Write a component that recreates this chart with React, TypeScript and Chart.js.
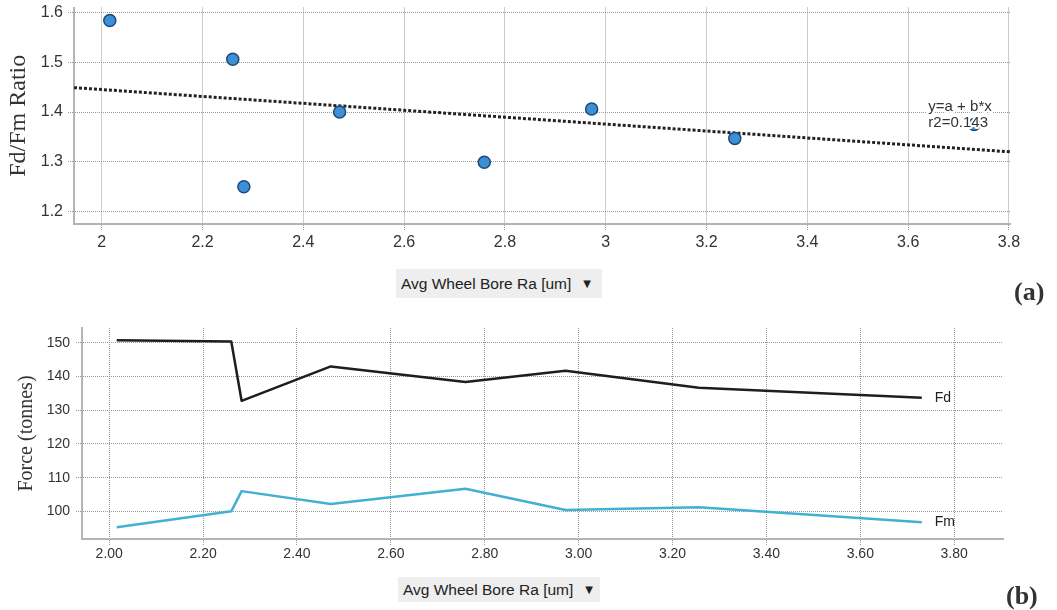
import { useEffect, useRef } from "react";
import { Chart, registerables } from "chart.js";

Chart.register(...registerables);

// ---------- data ----------
const wheelBoreRa = [2.016, 2.26, 2.282, 2.472, 2.759, 2.972, 3.256, 3.731];
const fdFmRatio = [1.584, 1.506, 1.25, 1.4, 1.299, 1.406, 1.347, 1.375];
const fitX = [1.945, 3.802];
const fitY = [1.449, 1.32];
const fdForce = [150.8, 150.4, 132.8, 143.0, 138.4, 141.7, 136.7, 133.7];
const fmForce = [95.3, 100.0, 106.0, 102.2, 106.7, 100.4, 101.2, 96.8];

const ratioTicks = [1.2, 1.3, 1.4, 1.5, 1.6];
const raTicks = [2, 2.2, 2.4, 2.6, 2.8, 3, 3.2, 3.4, 3.6, 3.8];
const forceTicks = [100, 110, 120, 130, 140, 150];

const eqLines = ["y=a + b*x", "r2=0.143"];
const eqAnchorX = 3.64;
const eqAnchorY = [1.41, 1.378];
const seriesNames = ["Fd", "Fm"];
const xTitle = "Avg Wheel Bore Ra [um]";

const SANS = '"Liberation Sans", Arial, sans-serif';
const SERIF = '"Liberation Serif", "Times New Roman", serif';
const GRID = "#999999";
const AXIS = "#b4b4b4";
const TICK_TXT = "#333333";

const eqPlugin = {
  id: "eqPlugin",
  afterDatasetsDraw(chart: any) {
    const { ctx, scales } = chart;
    const x = scales.x.getPixelForValue(eqAnchorX);
    ctx.save();
    ctx.font = `15px ${SANS}`;
    ctx.textAlign = "left";
    ctx.textBaseline = "middle";
    eqLines.forEach((t, i) => {
      const y = scales.y.getPixelForValue(eqAnchorY[i]);
      ctx.lineWidth = 4;
      ctx.strokeStyle = "#ffffff";
      ctx.lineJoin = "round";
      ctx.strokeText(t, x, y);
      ctx.fillStyle = "#333333";
      ctx.fillText(t, x, y);
    });
    ctx.restore();
  },
};

const seriesLabelPlugin = {
  id: "seriesLabelPlugin",
  afterDatasetsDraw(chart: any) {
    const { ctx } = chart;
    ctx.save();
    ctx.font = `14px ${SANS}`;
    ctx.textAlign = "left";
    ctx.textBaseline = "middle";
    ctx.fillStyle = "#222222";
    chart.data.datasets.forEach((ds: any, i: number) => {
      const meta = chart.getDatasetMeta(i);
      const last = meta.data[meta.data.length - 1];
      if (!last) return;
      ctx.fillText(ds.label, last.x + 13, last.y);
    });
    ctx.restore();
  },
};

function fixScaleWidth(w: number) {
  return (s: any) => {
    s.width = w;
    s.paddingTop = 0;
    s.paddingBottom = 0;
  };
}
function fixScaleHeight(h: number) {
  return (s: any) => {
    s.height = h;
    s.paddingLeft = 0;
    s.paddingRight = 0;
  };
}

function gridOpts() {
  return {
    color: GRID,
    lineWidth: 1,
    drawTicks: true,
    tickLength: 6,
    tickColor: GRID,
    tickBorderDash: [1, 1],
  };
}

function TopChart() {
  const ref = useRef<HTMLCanvasElement>(null);
  useEffect(() => {
    if (!ref.current) return;
    const chart = new Chart(ref.current, {
      type: "scatter",
      data: {
        datasets: [
          {
            label: "ratio",
            data: wheelBoreRa.map((x, i) => ({ x, y: fdFmRatio[i] })),
            pointRadius: 6,
            pointBackgroundColor: "#3d8fd6",
            pointBorderColor: "#1c4a78",
            pointBorderWidth: 1.5,
            showLine: false,
          },
          {
            label: "fit",
            data: fitX.map((x, i) => ({ x, y: fitY[i] })),
            showLine: true,
            pointRadius: 0,
            borderColor: "#222222",
            borderWidth: 3,
            borderDash: [3, 2],
          },
        ],
      },
      options: {
        animation: false,
        responsive: false,
        devicePixelRatio: 1,
        layout: { padding: { top: 6, left: 0, right: 47, bottom: 36 } },
        plugins: { legend: { display: false }, tooltip: { enabled: false } },
        scales: {
          x: {
            type: "linear",
            min: 1.945,
            max: 3.802,
            afterFit: fixScaleHeight(40),
            afterBuildTicks: (s: any) => {
              s.ticks = raTicks.map((v) => ({ value: v }));
            },
            grid: gridOpts(),
            border: { display: true, color: AXIS, width: 2, dash: [1, 1] },
            ticks: {
              padding: 3,
              color: TICK_TXT,
              font: { family: SANS, size: 16 },
              callback: (v: any) => String(Math.round(Number(v) * 10) / 10),
            },
          },
          y: {
            type: "linear",
            min: 1.175,
            max: 1.61,
            afterFit: fixScaleWidth(74),
            afterBuildTicks: (s: any) => {
              s.ticks = ratioTicks.map((v) => ({ value: v }));
            },
            grid: gridOpts(),
            border: { display: true, color: AXIS, width: 2, dash: [1, 1] },
            ticks: {
              padding: 5,
              color: TICK_TXT,
              font: { family: SANS, size: 16 },
              callback: (v: any) => String(Math.round(Number(v) * 10) / 10),
            },
            title: {
              display: true,
              text: "Fd/Fm Ratio",
              color: "#333333",
              font: { family: SERIF, size: 24, lineHeight: 1 },
              padding: { top: 7, bottom: 0 },
            },
          },
        },
      },
      plugins: [eqPlugin],
    } as any);
    return () => chart.destroy();
  }, []);
  return (
    <canvas
      ref={ref}
      width={1057}
      height={300}
      style={{ position: "absolute", left: 0, top: 0, width: 1057, height: 300 }}
    />
  );
}

function BottomChart() {
  const ref = useRef<HTMLCanvasElement>(null);
  useEffect(() => {
    if (!ref.current) return;
    const chart = new Chart(ref.current, {
      type: "scatter",
      data: {
        datasets: [
          {
            label: seriesNames[0],
            data: wheelBoreRa.map((x, i) => ({ x, y: fdForce[i] })),
            showLine: true,
            pointRadius: 0,
            borderColor: "#1e1e1e",
            borderWidth: 2.5,
            borderJoinStyle: "round",
          },
          {
            label: seriesNames[1],
            data: wheelBoreRa.map((x, i) => ({ x, y: fmForce[i] })),
            showLine: true,
            pointRadius: 0,
            borderColor: "#42b0d2",
            borderWidth: 2.5,
            borderJoinStyle: "round",
          },
        ],
      },
      options: {
        animation: false,
        responsive: false,
        devicePixelRatio: 1,
        layout: { padding: { top: 28, left: 0, right: 54, bottom: 31 } },
        plugins: { legend: { display: false }, tooltip: { enabled: false } },
        scales: {
          x: {
            type: "linear",
            min: 1.942,
            max: 3.904,
            afterFit: fixScaleHeight(40),
            afterBuildTicks: (s: any) => {
              s.ticks = raTicks.map((v) => ({ value: v }));
            },
            grid: gridOpts(),
            border: { display: true, color: AXIS, width: 2, dash: [1, 1] },
            ticks: {
              padding: 1,
              color: TICK_TXT,
              font: { family: SANS, size: 14 },
              callback: (v: any) => Number(v).toFixed(2),
            },
          },
          y: {
            type: "linear",
            min: 91.8,
            max: 154.4,
            afterFit: fixScaleWidth(82),
            afterBuildTicks: (s: any) => {
              s.ticks = forceTicks.map((v) => ({ value: v }));
            },
            grid: gridOpts(),
            border: { display: true, color: AXIS, width: 2, dash: [1, 1] },
            ticks: {
              padding: 6,
              color: TICK_TXT,
              font: { family: SANS, size: 14 },
              callback: (v: any) => String(v),
            },
            title: {
              display: true,
              text: "Force (tonnes)",
              color: "#333333",
              font: { family: SERIF, size: 20, lineHeight: 1 },
              padding: { top: 17, bottom: 0 },
            },
          },
        },
      },
      plugins: [seriesLabelPlugin],
    } as any);
    return () => chart.destroy();
  }, []);
  return (
    <canvas
      ref={ref}
      width={1057}
      height={310}
      style={{ position: "absolute", left: 0, top: 300, width: 1057, height: 310 }}
    />
  );
}

function AxisButton({ left, top, width, height }: { left: number; top: number; width: number; height: number }) {
  return (
    <div
      style={{
        position: "absolute",
        left,
        top,
        width,
        height,
        background: "#eeeeee",
        fontFamily: SANS,
        fontSize: 15.5,
        color: "#222222",
        display: "flex",
        alignItems: "center",
        paddingLeft: 5,
        boxSizing: "border-box",
        whiteSpace: "nowrap",
      }}
    >
      <span>{xTitle}</span>
      <span style={{ fontSize: 10, marginLeft: 12, fontFamily: '"DejaVu Sans", sans-serif' }}>▼</span>
    </div>
  );
}

function PanelLabel({ text, left, top }: { text: string; left: number; top: number }) {
  return (
    <div
      style={{
        position: "absolute",
        left,
        top,
        fontFamily: SERIF,
        fontWeight: "bold",
        fontSize: 26,
        lineHeight: "26px",
        color: "#333333",
      }}
    >
      {text}
    </div>
  );
}

export default function App() {
  return (
    <div
      style={{
        position: "absolute",
        left: 0,
        top: 0,
        width: 1057,
        height: 610,
        background: "#ffffff",
        overflow: "hidden",
      }}
    >
      <TopChart />
      <BottomChart />
      <AxisButton left={396} top={269} width={206} height={29} />
      <AxisButton left={398} top={577} width={202} height={25} />
      <PanelLabel text="(a)" left={1014} top={279} />
      <PanelLabel text="(b)" left={1006} top={583} />
    </div>
  );
}
